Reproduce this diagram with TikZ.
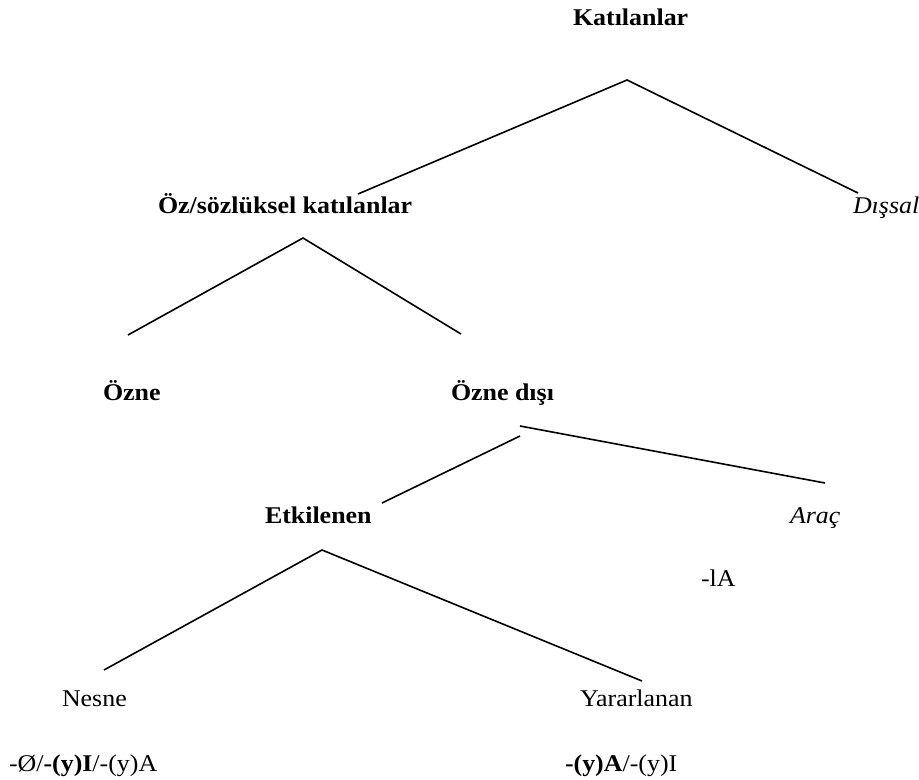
\documentclass[tikz,border=0pt]{standalone}
\usepackage{fontspec}
\setmainfont[FakeStretch=1.08]{Liberation Serif}
\begin{document}
\begin{tikzpicture}[x=1bp,y=-1bp,
  lbl/.style={anchor=base west,inner sep=0pt,outer sep=0pt,font=\fontsize{24bp}{28bp}\selectfont},
  blbl/.style={lbl,font=\fontsize{24bp}{28bp}\selectfont\bfseries},
  ilbl/.style={lbl,font=\fontsize{24bp}{28bp}\selectfont\itshape},
  branch/.style={line width=1.6bp,line cap=butt}]
\useasboundingbox (0,0) rectangle (919,780);
% text nodes
\node[blbl] (kat) at (573,26) {Katılanlar};
\node[blbl] (oz) at (158,213) {Öz/sözlüksel katılanlar};
\node[ilbl] (dis) at (853,213) {Dışsal};
\node[blbl] (ozne) at (103,400) {Özne};
\node[blbl] (ozd) at (451,400) {Özne dışı};
\node[blbl] (etk) at (265,523) {Etkilenen};
\node[ilbl] (arac) at (790,523) {Araç};
\node[lbl] (la) at (701,586) {-lA};
\node[lbl] (nes) at (62,706) {Nesne};
\node[lbl] (yar) at (580,706) {Yararlanan};
\node[lbl] (nesek) at (9,771) {-Ø/\textbf{-(y)I}/-(y)A};
\node[lbl] (yarek) at (565,771) {\textbf{-(y)A}/-(y)I};
% branch points
\coordinate (katB) at (627,80);
\coordinate (ozT) at (358,194);
\coordinate (disT) at (858,193);
\coordinate (ozB) at (303,238);
\coordinate (ozneT) at (128,335);
\coordinate (ozdT) at (461,334);
\coordinate (ozdB1) at (520,426);
\coordinate (ozdB2) at (520,436);
\coordinate (etkT) at (382,503);
\coordinate (aracT) at (825,483);
\coordinate (etkB) at (322,550);
\coordinate (nesT) at (104,670);
\coordinate (yarT) at (642,681);
% connectors
\draw[branch] (ozT) -- (katB) -- (disT);
\draw[branch] (ozneT) -- (ozB) -- (ozdT);
\draw[branch] (ozdB1) -- (aracT);
\draw[branch] (ozdB2) -- (etkT);
\draw[branch] (nesT) -- (etkB) -- (yarT);
\end{tikzpicture}
\end{document}
